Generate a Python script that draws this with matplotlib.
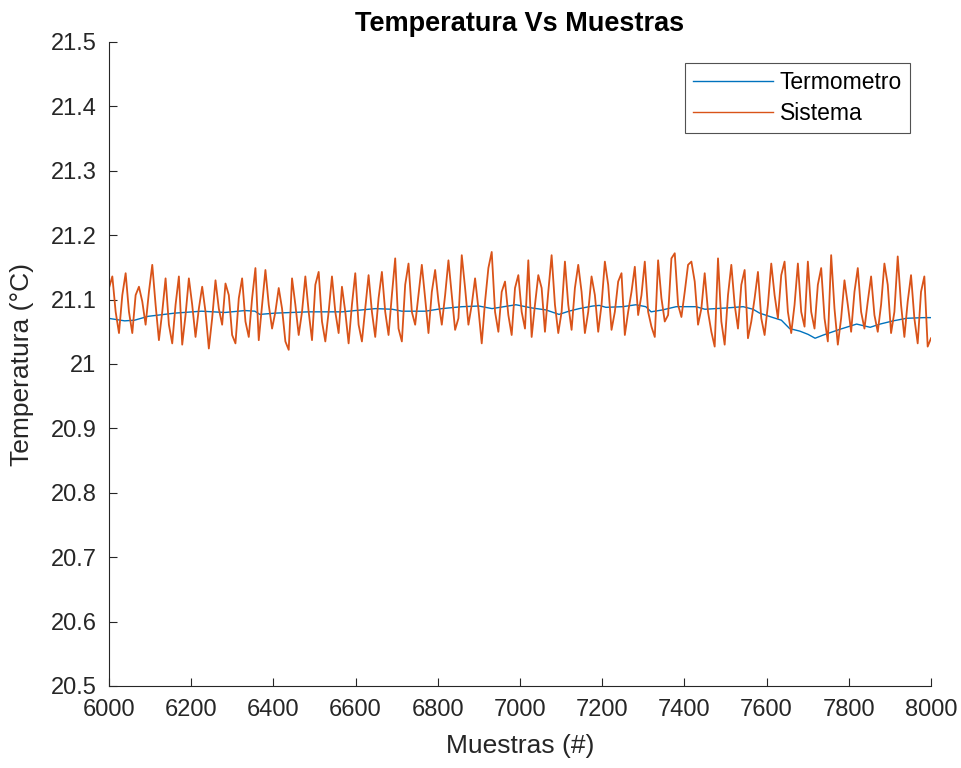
import numpy as np
import matplotlib
matplotlib.use("Agg")
import matplotlib.pyplot as plt
from matplotlib.ticker import FuncFormatter

plt.rcParams['font.family'] = ['Liberation Sans', 'DejaVu Sans']

# Sistema: one reading every ~8 samples, 6000..8000
sistema = [
    21.118, 21.136, 21.081, 21.048, 21.107, 21.141, 21.081, 21.048, 21.107, 21.120, 21.097, 21.061,
    21.112, 21.154, 21.092, 21.037, 21.081, 21.133, 21.061, 21.032, 21.092, 21.136, 21.030, 21.076,
    21.133, 21.092, 21.042, 21.086, 21.120, 21.081, 21.024, 21.071, 21.130, 21.086, 21.061,
    21.125, 21.107, 21.045, 21.032, 21.102, 21.133, 21.066, 21.042, 21.102, 21.149, 21.037, 21.092,
    21.146, 21.092, 21.055, 21.081, 21.118, 21.086, 21.035, 21.022, 21.133, 21.092, 21.045, 21.081,
    21.136, 21.081, 21.037, 21.123, 21.143, 21.066, 21.035, 21.081, 21.136, 21.081, 21.048,
    21.120, 21.081, 21.032, 21.092, 21.141, 21.061, 21.035, 21.086, 21.138, 21.081, 21.042, 21.102,
    21.143, 21.081, 21.045, 21.107, 21.164, 21.055, 21.035, 21.123, 21.156, 21.081, 21.061, 21.107,
    21.154, 21.102, 21.048, 21.112, 21.146, 21.097, 21.061, 21.107, 21.161, 21.107, 21.053,
    21.071, 21.169, 21.118, 21.061, 21.092, 21.133, 21.086, 21.032, 21.097, 21.149, 21.174, 21.081,
    21.050, 21.112, 21.128, 21.076, 21.045, 21.118, 21.138, 21.081, 21.055, 21.161, 21.042, 21.092,
    21.138, 21.118, 21.050, 21.112, 21.169, 21.092, 21.048, 21.081, 21.159, 21.092, 21.053,
    21.118, 21.154, 21.112, 21.048, 21.081, 21.136, 21.107, 21.050, 21.092, 21.159, 21.123, 21.053,
    21.081, 21.128, 21.141, 21.045, 21.081, 21.112, 21.151, 21.076, 21.107, 21.159, 21.081, 21.058,
    21.042, 21.161, 21.102, 21.066, 21.076, 21.164, 21.172, 21.092, 21.073, 21.112, 21.154,
    21.159, 21.128, 21.061, 21.086, 21.141, 21.081, 21.050, 21.027, 21.164, 21.066, 21.030, 21.107,
    21.154, 21.092, 21.055, 21.123, 21.146, 21.040, 21.066, 21.102, 21.143, 21.071, 21.045, 21.092,
    21.156, 21.107, 21.071, 21.138, 21.159, 21.081, 21.048, 21.092, 21.156, 21.081, 21.058,
    21.159, 21.081, 21.055, 21.123, 21.149, 21.071, 21.035, 21.169, 21.086, 21.030, 21.071, 21.130,
    21.092, 21.050, 21.112, 21.149, 21.081, 21.055, 21.097, 21.136, 21.076, 21.050, 21.092, 21.156,
    21.123, 21.048, 21.081, 21.167, 21.092, 21.042, 21.097, 21.138, 21.071, 21.032, 21.112, 21.136,
    21.027, 21.040,
]
muestras_sis = np.linspace(6000, 8000, len(sistema))

# Termometro: smooth reference, read at knots
muestras_ter = [5998, 6038, 6062, 6095, 6160, 6225, 6282, 6331, 6355, 6367, 6404, 6485, 6567,
                6648, 6689, 6713, 6770, 6810, 6859, 6900, 6932, 6990, 7029, 7063, 7095, 7119,
                7144, 7177, 7193, 7209, 7250, 7282, 7306, 7319, 7347, 7380, 7428, 7450, 7502,
                7543, 7567, 7583, 7616, 7636, 7656, 7681, 7701, 7718, 7738, 7779, 7819, 7852,
                7876, 7908, 7941, 7982, 8000]
termometro = [21.071, 21.067, 21.068, 21.074, 21.079, 21.082, 21.080, 21.083, 21.082, 21.077,
              21.079, 21.081, 21.081, 21.086, 21.085, 21.082, 21.082, 21.086, 21.089, 21.090,
              21.086, 21.092, 21.087, 21.084, 21.077, 21.082, 21.086, 21.090, 21.091, 21.088,
              21.089, 21.092, 21.089, 21.081, 21.084, 21.089, 21.089, 21.085, 21.087, 21.089,
              21.085, 21.079, 21.072, 21.068, 21.055, 21.051, 21.046, 21.040, 21.045, 21.054,
              21.062, 21.057, 21.062, 21.067, 21.071, 21.072, 21.072]

fig = plt.figure(figsize=(9.61, 7.68), dpi=100)
ax = fig.add_axes([109/961, 1-686/768, (931-109)/961, (686-42)/768])

ax.plot(muestras_ter, termometro, color="#0072BD", lw=1.0, label="Termometro")
ax.plot(muestras_sis, sistema, color="#D95319", lw=1.3, label="Sistema")

gray = "#262626"
ax.set_xlim(6000, 8000)
ax.set_ylim(20.5, 21.5)
ax.set_xticks(np.arange(6000, 8001, 200))
ax.set_yticks(np.arange(20.5, 21.51, 0.1))
ax.yaxis.set_major_formatter(FuncFormatter(lambda v, p: f"{round(v, 1):g}"))
ax.tick_params(direction="in", length=6, width=0.8, colors=gray, labelsize=17)
ax.tick_params(axis="x", pad=9)
ax.tick_params(axis="y", pad=9)
ax.spines["top"].set_visible(False)
ax.spines["right"].set_visible(False)
for s in ("left", "bottom"):
    ax.spines[s].set_color(gray)
    ax.spines[s].set_linewidth(0.8)

ax.set_xlabel("Muestras (#)", fontsize=19, color=gray, labelpad=10)
ax.set_ylabel("Temperatura (°C)", fontsize=19, color=gray, labelpad=12)
ax.set_title("Temperatura Vs Muestras", fontsize=19.5, fontweight="bold", color="black", pad=8)

leg = ax.legend(loc="upper right", bbox_to_anchor=(0.9745, 0.968), fontsize=16.5, frameon=True,
                fancybox=False, handlelength=3.5, borderpad=0.35, labelspacing=0.35,
                handletextpad=0.3, borderaxespad=0)
leg.get_frame().set_edgecolor(gray)
leg.get_frame().set_linewidth(0.8)
for line in leg.get_lines():
    line.set_linewidth(1.0)

fig.savefig("out.png", dpi=100)
